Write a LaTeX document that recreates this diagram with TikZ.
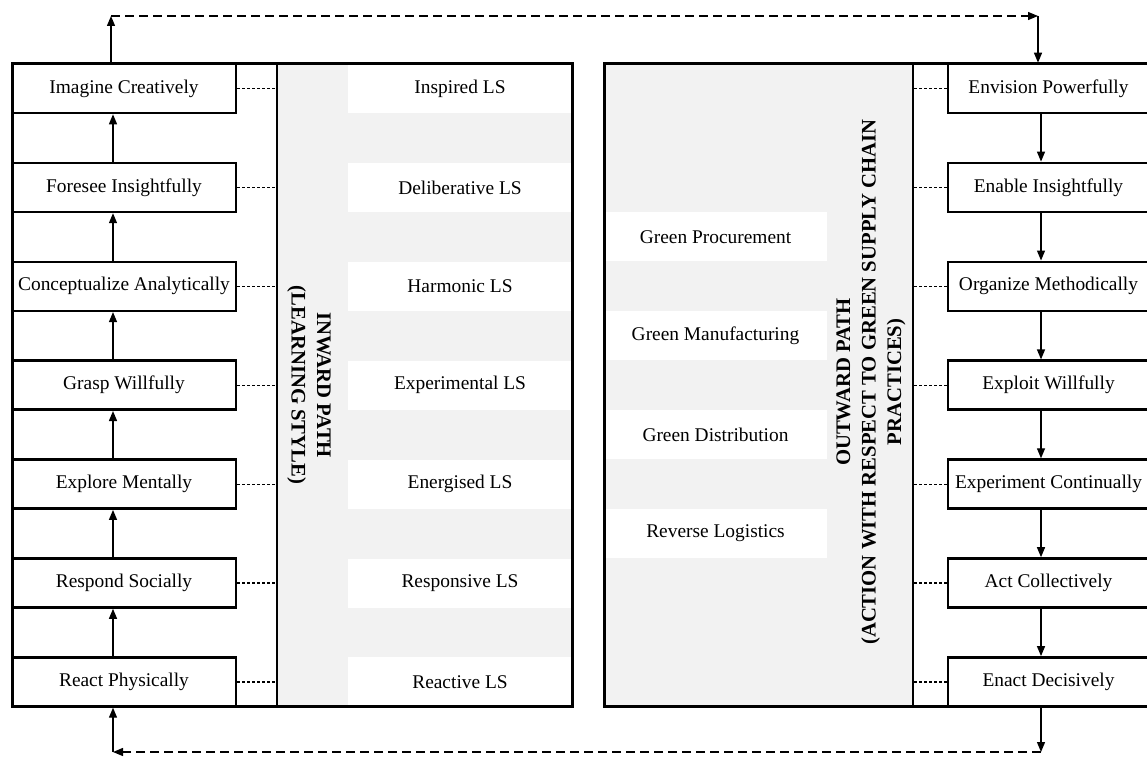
\documentclass[tikz,border=0pt]{standalone}
\usepackage{fontspec}
\setmainfont{Liberation Serif}
\usetikzlibrary{arrows.meta}
\definecolor{panelgray}{RGB}{242,242,242}
\newcommand\fs{\fontsize{19.4}{23}\selectfont}
\begin{document}
\begin{tikzpicture}[x=1pt,y=-1pt,
  box/.style={draw, line width=2.6pt, fill=white, minimum width=224pt, minimum height=49pt, inner sep=0pt, font=\fs},
  rbox/.style={box, minimum width=201pt},
  strip/.style={fill=white, minimum width=224pt, minimum height=49pt, inner sep=0pt, font=\fs},
  rstrip/.style={strip, minimum width=223pt},
  conn/.style={line width=1.2pt, dash pattern=on 3pt off 2pt},
  arr/.style={line width=1.3pt, -{Triangle[length=10pt,width=8pt]}},
  loopdash/.style={dash pattern=on 9pt off 5pt},
  frame/.style={line width=3pt},
  divider/.style={line width=2pt},
  title/.style={font=\fontsize{20.7}{25.5}\selectfont\bfseries, align=center, inner sep=0pt}]
\useasboundingbox (0,0) rectangle (1147,757);
% panels
\fill[panelgray] (277,64) rectangle (572,706);
\fill[panelgray] (604,64) rectangle (913,706);
% left column boxes
\node[box] (b1) at (124,88.5) {Imagine Creatively};
\node[box] (b2) at (124,187.4) {Foresee Insightfully};
\node[box] (b3) at (124,286.3) {Conceptualize Analytically};
\node[box] (b4) at (124,385.2) {Grasp Willfully};
\node[box] (b5) at (124,484.1) {Explore Mentally};
\node[box] (b6) at (124,583.0) {Respond Socially};
\node[box] (b7) at (124,681.9) {React Physically};
% learning style strips
\node[strip] (s1) at (460,88.5) {Inspired LS};
\node[strip] (s2) at (460,187.4) {Deliberative LS};
\node[strip] (s3) at (460,286.3) {Harmonic LS};
\node[strip] (s4) at (460,385.2) {Experimental LS};
\node[strip] (s5) at (460,484.1) {Energised LS};
\node[strip] (s6) at (460,583.0) {Responsive LS};
\node[strip] (s7) at (460,681.9) {Reactive LS};
% green practice strips
\node[rstrip] (g1) at (715.5,236.85) {Green Procurement};
\node[rstrip] (g2) at (715.5,335.75) {Green Manufacturing};
\node[rstrip] (g3) at (715.5,434.65) {Green Distribution};
\node[rstrip] (g4) at (715.5,533.55) {Reverse Logistics};
% right column boxes
\node[rbox] (r1) at (1048.5,88.5) {Envision Powerfully};
\node[rbox] (r2) at (1048.5,187.4) {Enable Insightfully};
\node[rbox] (r3) at (1048.5,286.3) {Organize Methodically};
\node[rbox] (r4) at (1048.5,385.2) {Exploit Willfully};
\node[rbox] (r5) at (1048.5,484.1) {Experiment Continually};
\node[rbox] (r6) at (1048.5,583.0) {Act Collectively};
\node[rbox] (r7) at (1048.5,681.9) {Enact Decisively};
% frames and dividers
\draw[frame] (12,64) rectangle (572,706);
\draw[frame] (604,64) rectangle (1149,706);
\coordinate (Lline) at (277,64);
\coordinate (Lbot) at (277,706);
\coordinate (Rline) at (913,64);
\coordinate (Rbot) at (913,706);
\draw[divider] (Lline) -- (Lbot);
\draw[divider] (Rline) -- (Rbot);
% titles
\node[title, rotate=-90] (tin) at (309,385) {INWARD PATH\\(LEARNING STYLE)};
\node[title, rotate=90] (tout) at (871,382) {OUTWARD PATH\\(ACTION WITH RESPECT TO GREEN SUPPLY CHAIN\\PRACTICES)};
% dashed links
\foreach \n in {1,...,7} {
  \draw[conn] (b\n.east) -- (b\n.east -| Lline);
  \draw[conn] (r\n.west) -- (r\n.west -| Rline);
}
% arrows
\coordinate (ax) at (113,0);
\coordinate (rx) at (1041,0);
\draw[arr] (b2.north -| ax) -- (b1.south -| ax);
\draw[arr] (b3.north -| ax) -- (b2.south -| ax);
\draw[arr] (b4.north -| ax) -- (b3.south -| ax);
\draw[arr] (b5.north -| ax) -- (b4.south -| ax);
\draw[arr] (b6.north -| ax) -- (b5.south -| ax);
\draw[arr] (b7.north -| ax) -- (b6.south -| ax);
\draw[arr] (r1.south -| rx) -- (r2.north -| rx);
\draw[arr] (r2.south -| rx) -- (r3.north -| rx);
\draw[arr] (r3.south -| rx) -- (r4.north -| rx);
\draw[arr] (r4.south -| rx) -- (r5.north -| rx);
\draw[arr] (r5.south -| rx) -- (r6.north -| rx);
\draw[arr] (r6.south -| rx) -- (r7.north -| rx);
% loops
\coordinate (tl) at (111,16);
\coordinate (tr) at (1038,16);
\coordinate (br) at (1041,752);
\coordinate (bl) at (113,752);
\draw[arr] (b1.north -| tl) -- (tl);
\draw[arr, loopdash] (tl) -- (tr);
\draw[arr] (tr) -- (r1.north -| tr);
\draw[arr] (r7.south -| br) -- (br);
\draw[arr, loopdash] (br) -- (bl);
\draw[arr] (bl) -- (b7.south -| bl);
\end{tikzpicture}
\end{document}
